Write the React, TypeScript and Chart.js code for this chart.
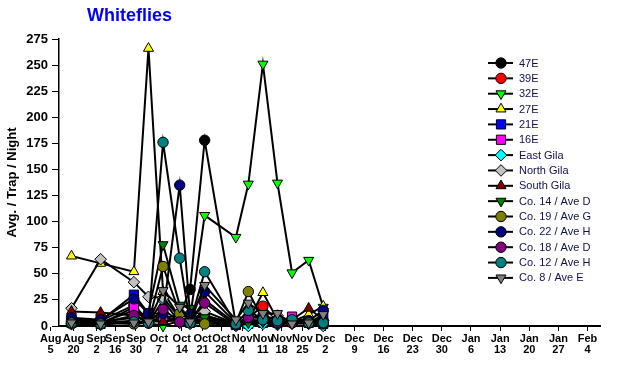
import React, { useEffect, useRef } from 'react';
import { Chart, registerables } from 'chart.js';
import { drawPoint } from 'chart.js/helpers';

Chart.register(...registerables);

// x positions of the sampling columns, in axis days
const sampleX = [3, 10, 18, 21.5, 25, 29, 31.5, 35, 42.5, 45.5, 49, 52.5, 56, 60, 63.5];

// axis tick positions (axis days) and their labels
const tickX = [-2, 3.5, 9, 13.5, 18.5, 24, 29.5, 34.5, 39, 44, 49, 53.5, 58.5, 64, 71, 78, 85, 92, 99, 106, 113, 120, 127];
const tickLabels = [
  ['Aug', '5'], ['Aug', '20'], ['Sep', '2'], ['Sep', '16'], ['Sep', '30'], ['Oct', '7'], ['Oct', '14'],
  ['Oct', '21'], ['Oct', '28'], ['Nov', '4'], ['Nov', '11'], ['Nov', '18'], ['Nov', '25'], ['Dec', '2'],
  ['Dec', '9'], ['Dec', '16'], ['Dec', '23'], ['Dec', '30'], ['Jan', '6'], ['Jan', '13'], ['Jan', '20'],
  ['Jan', '27'], ['Feb', '4'],
];
const yTicks = [0, 25, 50, 75, 100, 125, 150, 175, 200, 225, 250, 275];

const seriesNames = ['47E', '39E', '32E', '27E', '21E', '16E', 'East Gila', 'North Gila', 'South Gila',
  'Co. 14 / Ave D', 'Co. 19 / Ave G', 'Co. 22 / Ave H', 'Co. 18 / Ave D', 'Co. 12 / Ave H', 'Co. 8 / Ave E'];

const v47E = [5, 5, 20, 5, 8, 10, 35, 178, 2, 3, 5, 4, 3, 5, 4];
const v39E = [4, 3, 15, 5, 6, 8, 5, 10, 2, 8, 19, 5, 6, 6, 3];
const v32E = [2, 3, 5, 3, 0, 5, 8, 106, 85, 136, 251, 137, 51, 63, 18];
const v27E = [67, 60, 52, 266, 33, 8, 5, 6, 3, 5, 32, 6, 4, 11, 19];
const v21E = [6, 5, 30, 12, 6, 5, 8, 10, 2, 4, 6, 3, 5, 4, 8];
const v16E = [3, 2, 18, 4, 5, 6, 3, 5, 1, 2, 3, 4, 9, 3, 2];
const vEastGila = [2, 1, 5, 3, 25, 3, 2, 3, 0, 0, 2, 1, 3, 2, 0];
const vNorthGila = [17, 64, 42, 28, 27, 8, 5, 14, 2, 6, 5, 10, 4, 3, 5];
const vSouthGila = [14, 13, 10, 5, 4, 6, 4, 25, 2, 4, 5, 3, 6, 17, 6];
const vCo14 = [3, 4, 8, 14, 78, 20, 17, 8, 2, 3, 4, 2, 3, 5, 4];
const vCo19 = [2, 3, 2, 3, 57, 12, 10, 2, 3, 33, 6, 4, 3, 5, 2];
const vCo22 = [8, 6, 26, 12, 12, 135, 11, 33, 3, 8, 10, 6, 4, 5, 15];
const vCo18 = [4, 3, 10, 3, 16, 4, 5, 22, 1, 8, 8, 3, 3, 4, 3];
const vCo12 = [3, 2, 4, 3, 176, 65, 3, 52, 2, 15, 6, 5, 6, 3, 3];
const vCo8 = [3, 2, 3, 4, 34, 18, 4, 39, 6, 22, 12, 12, 2, 3, 11];

const seriesValues = [v47E, v39E, v32E, v27E, v21E, v16E, vEastGila, vNorthGila, vSouthGila,
  vCo14, vCo19, vCo22, vCo18, vCo12, vCo8];

const seriesColors = ['#000000', '#FF0000', '#00FF00', '#FFFF00', '#0000FF', '#FF00FF', '#00FFFF', '#C0C0C0',
  '#800000', '#008000', '#808000', '#000080', '#800080', '#008080', '#808080'];
const seriesShapes = ['circle', 'circle', 'triangle', 'triangle', 'rect', 'rect', 'rectRot', 'rectRot',
  'triangle', 'triangle', 'circle', 'circle', 'circle', 'circle', 'triangle'];
const seriesRotation = [0, 0, 180, 0, 0, 0, 0, 0, 0, 180, 0, 0, 0, 0, 180];
const seriesRadius = seriesShapes.map((s) => (s === 'circle' ? 5.2 : s === 'rect' ? 6.5 : 5.8));

const FONT = 'Arial, "Liberation Sans", sans-serif';

const titlePlugin = {
  id: 'customTitle',
  afterDraw(chart: any) {
    const ctx = chart.ctx;
    ctx.save();
    ctx.font = `bold 18px ${FONT}`;
    ctx.fillStyle = '#0000FF';
    ctx.textAlign = 'left';
    ctx.textBaseline = 'alphabetic';
    ctx.fillText('Whiteflies', 87, 21);
    ctx.restore();
  },
};

const legendPlugin = {
  id: 'customLegend',
  afterDraw(chart: any) {
    const ctx = chart.ctx;
    const area = chart.chartArea;
    const x0 = area.right - 112;
    const y0 = area.top + 24;
    const step = 15.35;
    ctx.save();
    seriesNames.forEach((name, i) => {
      const y = y0 + i * step;
      ctx.strokeStyle = '#000';
      ctx.lineWidth = 2;
      ctx.beginPath();
      ctx.moveTo(x0, y);
      ctx.lineTo(x0 + 25, y);
      ctx.stroke();
      ctx.fillStyle = seriesColors[i];
      ctx.strokeStyle = '#000';
      ctx.lineWidth = 1;
      drawPoint(ctx, { pointStyle: seriesShapes[i], rotation: seriesRotation[i], radius: seriesRadius[i], borderWidth: 1 }, x0 + 13, y);
      ctx.fillStyle = '#101050';
      ctx.font = `11px ${FONT}`;
      ctx.textAlign = 'left';
      ctx.textBaseline = 'middle';
      ctx.fillText(name, x0 + 31, y + 0.5);
    });
    ctx.restore();
  },
};

export default function App() {
  const ref = useRef<HTMLCanvasElement | null>(null);
  useEffect(() => {
    if (!ref.current) return;
    const datasets = seriesNames.map((name, i) => ({
      label: name,
      data: sampleX.map((x, j) => ({ x, y: seriesValues[i][j] })),
      borderColor: '#000',
      borderWidth: 2,
      backgroundColor: seriesColors[i],
      pointBackgroundColor: seriesColors[i],
      pointBorderColor: '#000',
      pointBorderWidth: 1,
      pointRadius: seriesRadius[i],
      pointStyle: seriesShapes[i],
      pointRotation: seriesRotation[i],
      tension: 0,
      clip: false,
      order: seriesNames.length - i,
    }));
    const chart = new Chart(ref.current, {
      type: 'line',
      data: { datasets },
      plugins: [titlePlugin, legendPlugin],
      options: {
        responsive: false,
        animation: false,
        devicePixelRatio: 1,
        events: [],
        layout: { padding: { top: 39, right: 25, left: 0, bottom: 0 } },
        plugins: { legend: { display: false }, title: { display: false }, tooltip: { enabled: false } },
        scales: {
          x: {
            type: 'linear',
            min: 0,
            max: 130,
            afterBuildTicks: (s: any) => { s.ticks = tickX.map((v) => ({ value: v })); },
            afterFit: (s: any) => { s.height = 48; },
            grid: { drawOnChartArea: false, tickLength: 5, color: '#000', lineWidth: 1 },
            border: { color: '#000', width: 2 },
            ticks: {
              autoSkip: false, maxRotation: 0, minRotation: 0, padding: 2, color: '#000',
              font: { family: FONT, size: 11, weight: 'bold', lineHeight: 1.0 },
              callback: (_v: any, i: number) => tickLabels[i],
            },
          },
          y: {
            min: 0,
            max: 275,
            afterBuildTicks: (s: any) => { s.ticks = yTicks.map((v) => ({ value: v })); },
            afterFit: (s: any) => { s.width = 59; },
            grid: { drawOnChartArea: false, tickLength: 7, color: '#000', lineWidth: 1 },
            border: { color: '#000', width: 1.5 },
            ticks: { padding: 4, color: '#000', font: { family: FONT, size: 13, weight: 'bold' } },
            title: {
              display: true, text: 'Avg. / Trap / Night', color: '#000',
              font: { family: FONT, size: 13, weight: 'bold' }, padding: { top: 5, bottom: 0 },
            },
          },
        },
      } as any,
    });
    return () => chart.destroy();
  }, []);
  return (
    <div style={{ position: 'absolute', left: 0, top: 0, width: 625, height: 374, background: '#fff' }}>
      <canvas ref={ref} width={625} height={374} style={{ display: 'block' }} />
    </div>
  );
}
